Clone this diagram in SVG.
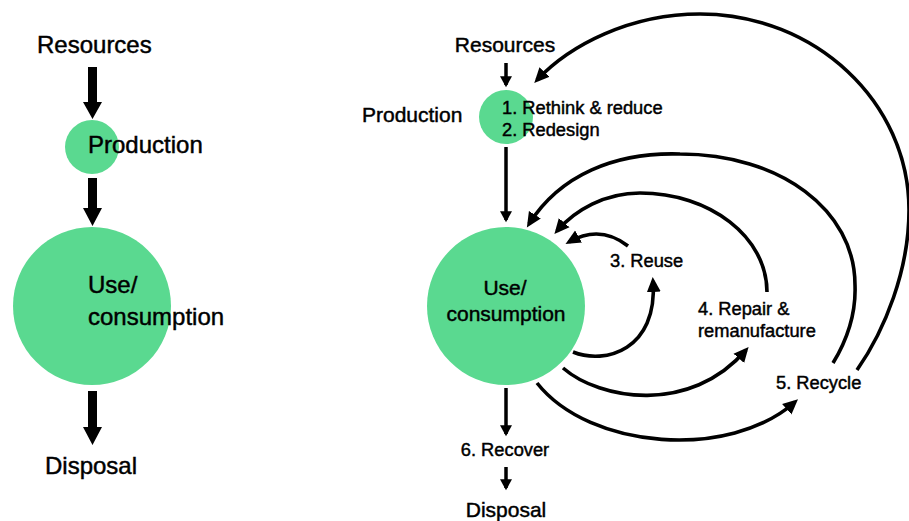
<svg xmlns="http://www.w3.org/2000/svg" width="909" height="521" viewBox="0 0 909 521">
<style>
  text { font-family: "Liberation Sans", Arial, sans-serif; fill: #000; stroke: #000; stroke-width: 0.45; }
  .l { font-size: 24px; }
  .m { font-size: 21px; }
  .s { font-size: 18.3px; }
  .node { fill: #5ad990; }
  .arc { fill: none; stroke: #000; stroke-width: 3.6; marker-end: url(#ah); }
  .vline { fill: none; stroke: #000; stroke-width: 3.5; marker-end: url(#ahs); }
</style>
<defs>
  <marker id="ah" markerUnits="userSpaceOnUse" markerWidth="16" markerHeight="16" viewBox="0 0 16 14" refX="11" refY="7" orient="auto">
    <path d="M0,0 L15,7 L0,14 z" fill="#000"/>
  </marker>
  <marker id="ahs" markerUnits="userSpaceOnUse" markerWidth="12" markerHeight="12" viewBox="0 0 11 11" refX="8" refY="5.5" orient="auto">
    <path d="M0,0 L10,5.5 L0,11 z" fill="#000"/>
  </marker>
</defs>

<!-- Left: linear economy -->
<g id="left-resources"><text class="l" x="37" y="53">Resources</text></g>
<g id="left-production">
  <circle class="node" cx="92" cy="147" r="27"/>
  <text class="l" x="88" y="153">Production</text>
</g>
<g id="left-use">
  <circle class="node" cx="92" cy="306" r="79"/>
  <text class="l" x="88" y="293">Use/</text>
  <text class="l" x="88" y="325">consumption</text>
</g>
<g id="left-disposal"><text class="l" x="45" y="474">Disposal</text></g>

<g id="left-connectors" fill="#000">
  <polygon points="88,67 97,67 97,102 102,102 92.5,119 83,102 88,102"/>
  <polygon points="88,178 97,178 97,208 102,208 92.5,226 83,208 88,208"/>
  <polygon points="88,391 97,391 97,427 102,427 92.5,445 83,427 88,427"/>
</g>

<!-- Right: circular economy -->
<g id="right-resources"><text class="m" x="505" y="52" text-anchor="middle">Resources</text></g>
<g id="right-production">
  <circle class="node" cx="506" cy="117" r="27"/>
  <text class="m" x="362" y="122">Production</text>
  <text class="s" x="502" y="114">1. Rethink &amp; reduce</text>
  <text class="s" x="502" y="136">2. Redesign</text>
</g>
<g id="right-use">
  <circle class="node" cx="506" cy="306" r="79"/>
  <text class="m" x="505" y="295" text-anchor="middle">Use/</text>
  <text class="m" x="506" y="321" text-anchor="middle">consumption</text>
</g>
<g id="reuse"><text class="s" x="610" y="267">3. Reuse</text></g>
<g id="repair">
  <text class="s" x="698" y="315">4. Repair &amp;</text>
  <text class="s" x="698" y="337">remanufacture</text>
</g>
<g id="recycle"><text class="s" x="776" y="389">5. Recycle</text></g>
<g id="recover"><text class="s" x="505" y="456" text-anchor="middle">6. Recover</text></g>
<g id="right-disposal"><text class="m" x="506" y="517" text-anchor="middle">Disposal</text></g>

<g id="right-connectors">
  <path class="vline" d="M506,63 L506,85"/>
  <path class="vline" d="M506,147 L506,220"/>
  <path class="vline" d="M506,388 L506,434"/>
  <path class="vline" d="M506,467 L506,488"/>
  <!-- outer: recycle back to production -->
  <path class="arc" d="M857,370 C885,330 909,270 909,210 C909,102 815,14 700,14 C630,14 570,45 537,80"/>
  <!-- recycle back to use -->
  <path class="arc" d="M833,363 C850,335 856,310 855,285 C855,210 780,154 680,154 C615,152 560,175 529,224"/>
  <!-- repair back to use -->
  <path class="arc" d="M767,292 C767,237 710,193 640,193 C605,193 575,210 557,231"/>
  <!-- reuse back to use -->
  <path class="arc" d="M628,246 C610,232 590,230 569,242"/>
  <!-- lower arcs out of use -->
  <path class="arc" d="M573,352 C605,365 658,350 653,281"/>
  <path class="arc" d="M563,368 C600,400 690,415 746,350"/>
  <path class="arc" d="M537,383 C590,450 730,460 795,402"/>
</g>
</svg>
